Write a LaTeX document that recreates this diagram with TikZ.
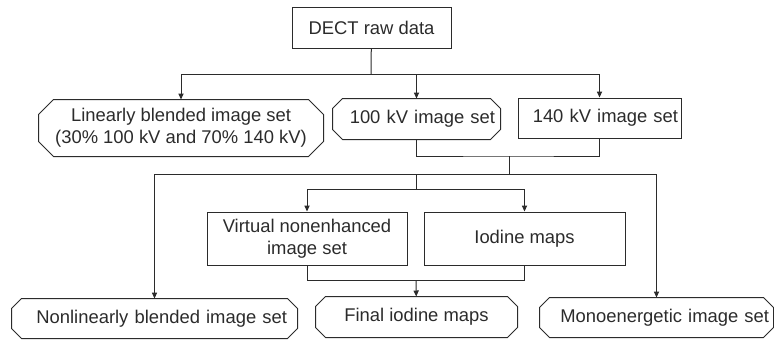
\documentclass[tikz,border=0pt]{standalone}
\usepackage{fontspec}
\setmainfont{Liberation Sans}
\usepackage{tikz}
\usetikzlibrary{arrows.meta}
\definecolor{ink}{HTML}{2B2B2B}

% outline with cut corners around a node
\newcommand{\cutbox}[2]{%
    \draw ([xshift=#2]#1.north west) -- ([xshift=-#2]#1.north east)
        -- ([yshift=-#2]#1.north east) -- ([yshift=#2]#1.south east)
        -- ([xshift=-#2]#1.south east) -- ([xshift=#2]#1.south west)
        -- ([yshift=#2]#1.south west) -- ([yshift=-#2]#1.north west) -- cycle;}

\begin{document}
\begin{tikzpicture}[x=0.5pt,y=-0.5pt,
    font=\fontsize{9.2}{11}\selectfont, color=ink, line width=0.5pt,
    box/.style={draw, rectangle, inner sep=0pt, align=center},
    hexbox/.style={rectangle, inner sep=0pt, align=center},
    arr/.style={-{Triangle[length=3pt,width=2.6pt]}}]
    \useasboundingbox (0,0) rectangle (774,339);

    \node[box, minimum width=79.5pt, minimum height=20.5pt] (raw) at (371.5,27.5) {DECT raw data};
    \node[hexbox, minimum width=142pt, minimum height=28pt] (linear) at (181,128)
        {Linearly blended image set\\(30\% 100 kV and 70\% 140 kV)};
    \node[hexbox, minimum width=83.5pt, minimum height=20pt, text width=78.5pt, align=right] (kv100) at (416.5,119) {100 kV image set};
    \node[box, minimum width=81.5pt, minimum height=20pt, text width=78.5pt, align=right] (kv140) at (599.5,118) {140 kV image set};
    \node[box, minimum width=100pt, minimum height=26.5pt] (virtual) at (307,238.5) {Virtual nonenhanced\\image set};
    \node[box, minimum width=100.5pt, minimum height=26.5pt] (iodine) at (524.5,238.5) {Iodine maps};
    \node[hexbox, minimum width=142.5pt, minimum height=19.5pt, text width=132.5pt, align=right] (nonlin) at (154.5,318.5) {Nonlinearly blended image set};
    \node[hexbox, minimum width=100.5pt, minimum height=20pt] (final) at (416.5,317) {Final iodine maps};
    \node[hexbox, minimum width=116.5pt, minimum height=19.5pt, text width=112.5pt, align=right] (mono) at (656.5,317.5) {Monoenergetic image set};

    \cutbox{linear}{7.5pt}
    \cutbox{kv100}{5pt}
    \cutbox{nonlin}{5pt}
    \cutbox{final}{5pt}
    \cutbox{mono}{5pt}

    \coordinate (s1) at (371,74);
    \coordinate (j1) at (509,156);
    \coordinate (s2) at (509,174);
    \coordinate (s3) at (416,189);
    \coordinate (j2) at (416,280);

    \draw (raw) -- (s1);
    \draw[arr] (s1) -| (linear);
    \draw[arr] (s1) -| (kv100);
    \draw[arr] (s1) -| (kv140);
    \draw (kv100) |- (j1) -| (kv140);
    \draw (j1) -- (s2);
    \draw[arr] (s2) -| (nonlin);
    \draw[arr] (s2) -| (mono);
    \draw (s3 |- s2) -- (s3);
    \draw[arr] (s3) -| (virtual);
    \draw[arr] (s3) -| (iodine);
    \draw (virtual) |- (j2) -| (iodine);
    \draw[arr] (j2) -- (final);
\end{tikzpicture}
\end{document}
